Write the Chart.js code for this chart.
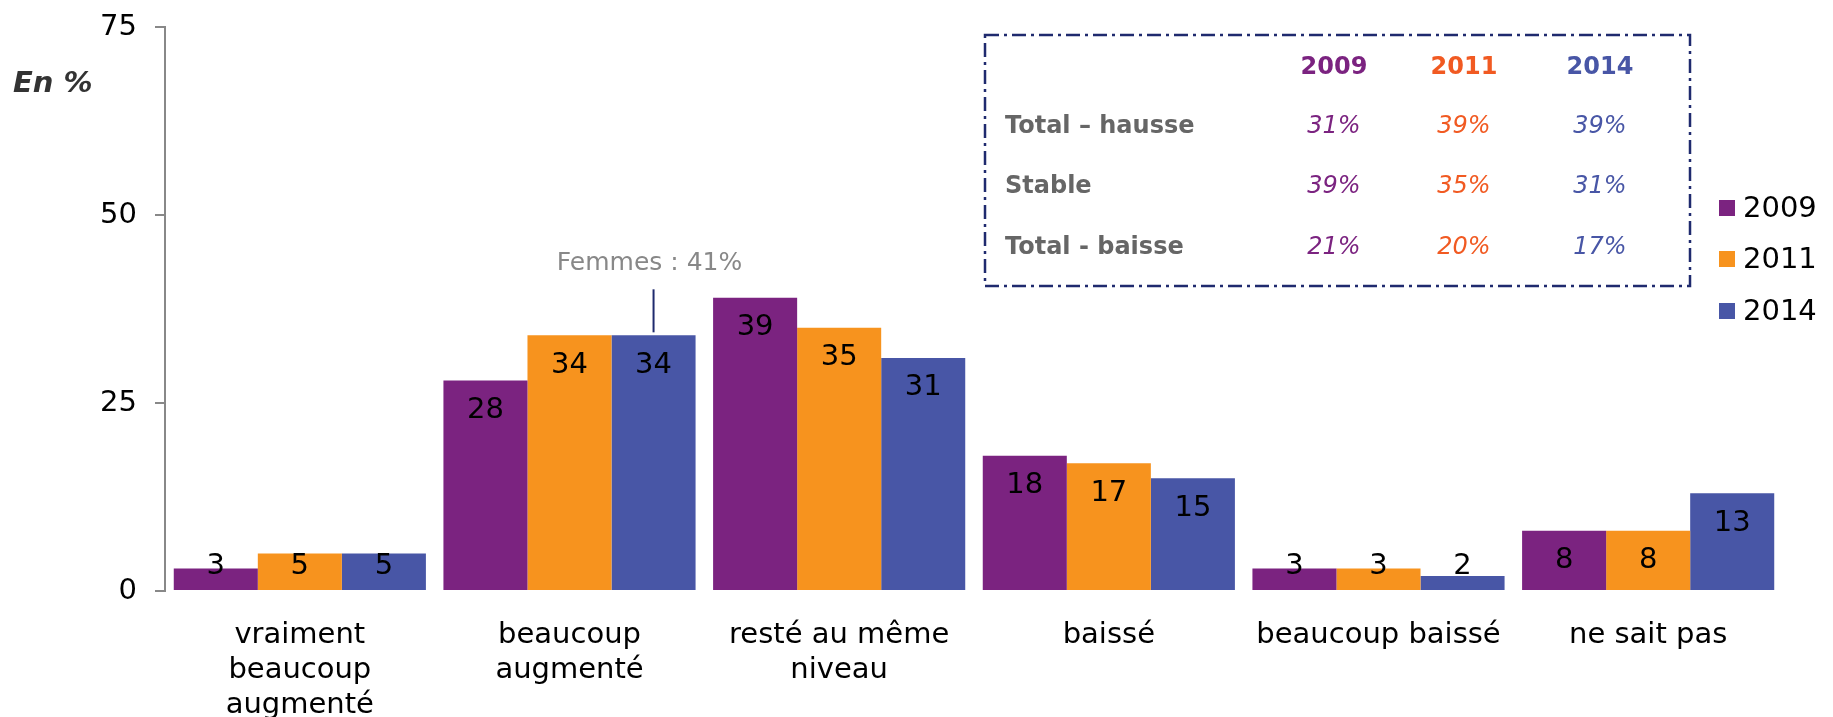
<!DOCTYPE html>
<html lang="fr">
<head>
<meta charset="UTF-8"/>
<title>Evolution</title>
<script src="https://cdn.jsdelivr.net/npm/chart.js@4.4.0/dist/chart.umd.min.js"></script>
<style>
body{margin:0;background:#fff;}
#wrap{position:relative;width:1833px;height:717px;}
</style>
</head>
<body>
<div id="wrap"><canvas id="Chart"></canvas></div>
<script>
// data
var categories = [['vraiment','beaucoup','augmenté'],['beaucoup','augmenté'],['resté au même','niveau'],'baissé','beaucoup baissé','ne sait pas'];
var years = ['2009','2011','2014'];
var values2009 = [3,28,39,18,3,8];
var values2011 = [5,34,35,17,3,8];
var values2014 = [5,34,31,15,2,13];
var yTicks = [0,25,50,75];
var tableRows = ['Total – hausse','Stable','Total - baisse'];
var table2009 = ['31%','39%','21%'];
var table2011 = ['39%','35%','20%'];
var table2014 = ['39%','31%','17%'];
var noteText = 'Femmes : 41%';

var FONT = '"DejaVu Sans", Verdana, sans-serif';
var barColors = ['#7B2380','#F7931E','#4856A6'];
var textColors = ['#7B2380','#F15A22','#4856A6'];

var extras = {
  id:'extras',
  afterDatasetsDraw:function(chart){
    var ctx = chart.ctx;
    ctx.save();
    // value labels
    ctx.font = '29px ' + FONT;
    ctx.fillStyle = '#000';
    ctx.textAlign = 'center';
    ctx.textBaseline = 'middle';
    chart.data.datasets.forEach(function(ds,i){
      chart.getDatasetMeta(i).data.forEach(function(el,j){
        var y = Math.min(el.y + 30, el.base - 24);
        ctx.fillText(ds.data[j], el.x, y);
      });
    });
    // note over 2014 bar of category 2
    var el = chart.getDatasetMeta(2).data[1];
    ctx.strokeStyle = '#1F2A6E';
    ctx.lineWidth = 2;
    ctx.beginPath();
    ctx.moveTo(el.x, el.y - 3);
    ctx.lineTo(el.x, el.y - 46);
    ctx.stroke();
    ctx.font = '25px ' + FONT;
    ctx.fillStyle = '#888';
    ctx.fillText(noteText, el.x - 4, el.y - 72);

    // unit label
    ctx.font = 'bold italic 29px ' + FONT;
    ctx.fillStyle = '#333';
    ctx.textAlign = 'left';
    ctx.fillText('En %', 13, 84);

    // legend
    var ly = [208,259,311];
    ctx.font = '29px ' + FONT;
    chart.data.datasets.forEach(function(ds,i){
      ctx.fillStyle = ds.backgroundColor;
      ctx.fillRect(1719, ly[i]-8, 16, 16);
      ctx.fillStyle = '#000';
      ctx.fillText(ds.label, 1743, ly[i]+1);
    });

    // table box
    ctx.strokeStyle = '#1F2A6E';
    ctx.lineWidth = 2.5;
    ctx.setLineDash([14,5,3,5]);
    ctx.strokeRect(985, 35, 705, 251);
    ctx.setLineDash([]);
    var cx = [1334,1464,1600];
    var ry = [127,187,248];
    var cols = [table2009,table2011,table2014];
    ctx.textAlign = 'center';
    ctx.font = 'bold 24px ' + FONT;
    years.forEach(function(y,i){
      ctx.fillStyle = textColors[i];
      ctx.fillText(y, cx[i], 68);
    });
    tableRows.forEach(function(r,k){
      ctx.textAlign = 'left';
      ctx.font = 'bold 24px ' + FONT;
      ctx.fillStyle = '#666';
      ctx.fillText(r, 1005, ry[k]);
      ctx.textAlign = 'center';
      ctx.font = 'italic 24px ' + FONT;
      cols.forEach(function(c,i){
        ctx.fillStyle = textColors[i];
        ctx.fillText(c[k], cx[i], ry[k]);
      });
    });
    ctx.restore();
  }
};

var ctx = document.getElementById('Chart').getContext('2d');
var chart = new Chart(ctx, {
  type:'bar',
  data:{
    labels:categories,
    datasets:[
      {label:years[0], data:values2009, backgroundColor:barColors[0]},
      {label:years[1], data:values2011, backgroundColor:barColors[1]},
      {label:years[2], data:values2014, backgroundColor:barColors[2]}
    ]
  },
  options:{
    responsive:true,
    maintainAspectRatio:false,
    animation:false,
    layout:{padding:{top:27,right:50,left:0,bottom:0}},
    datasets:{bar:{categoryPercentage:0.935,barPercentage:1,borderWidth:0}},
    plugins:{legend:{display:false},tooltip:{enabled:false}},
    scales:{
      x:{
        grid:{display:false},
        border:{display:false},
        ticks:{color:'#000',font:{family:FONT,size:29},padding:19,maxRotation:0,autoSkip:false},
        afterFit:function(s){s.height = 126;}
      },
      y:{
        min:0,max:75,
        afterBuildTicks:function(s){s.ticks = yTicks.map(function(v){return {value:v};});},
        grid:{drawOnChartArea:false,drawTicks:true,tickLength:10,color:'#888',lineWidth:2},
        border:{display:true,color:'#888',width:2},
        ticks:{color:'#000',font:{family:FONT,size:29,lineHeight:0.3},padding:18},
        afterFit:function(s){s.width = 165;}
      }
    }
  },
  plugins:[extras]
});
</script>
</body>
</html>
